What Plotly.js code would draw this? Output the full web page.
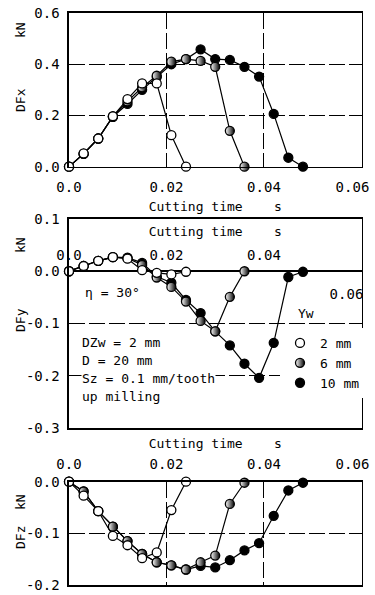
<!DOCTYPE html>
<html>
<head>
<meta charset="utf-8">
<script src="https://cdn.plot.ly/plotly-3.0.1.min.js"></script>
<style>html,body{margin:0;padding:0;background:#fff;}#chart{width:375px;height:595px;}</style>
</head>
<body>
<div id="chart"></div>
<script>
// ---- data ----
const time2  = [0, 0.003, 0.006, 0.009, 0.012, 0.015, 0.018, 0.021, 0.024];
const time6  = [0, 0.003, 0.006, 0.009, 0.012, 0.015, 0.018, 0.021, 0.024, 0.027, 0.030, 0.033, 0.036];
const time10 = [0, 0.003, 0.006, 0.009, 0.012, 0.015, 0.018, 0.021, 0.024, 0.027, 0.030, 0.033, 0.036, 0.039, 0.042, 0.045, 0.048];

const dfx2  = [0, 0.052, 0.11, 0.197, 0.264, 0.325, 0.325, 0.123, 0.0];
const dfx6  = [0, 0.05, 0.11, 0.195, 0.255, 0.31, 0.355, 0.41, 0.42, 0.413, 0.39, 0.14, 0.0];
const dfx10 = [0, 0.05, 0.11, 0.195, 0.245, 0.30, 0.35, 0.40, 0.42, 0.458, 0.42, 0.417, 0.39, 0.352, 0.206, 0.035, 0.0];

const dfy2  = [0, 0.01, 0.02, 0.027, 0.024, 0.002, -0.003, -0.006, -0.001];
const dfy6  = [0, 0.01, 0.02, 0.027, 0.025, 0.012, -0.012, -0.03, -0.058, -0.095, -0.115, -0.049, 0.0];
const dfy10 = [0, 0.01, 0.02, 0.027, 0.026, 0.016, -0.01, -0.022, -0.055, -0.08, -0.115, -0.142, -0.177, -0.204, -0.137, -0.011, -0.001];

const dfz2  = [0, -0.027, -0.057, -0.105, -0.123, -0.148, -0.137, -0.055, 0.0];
const dfz6  = [0, -0.019, -0.057, -0.087, -0.115, -0.14, -0.156, -0.162, -0.17, -0.156, -0.143, -0.043, -0.002];
const dfz10 = [0, -0.019, -0.057, -0.087, -0.115, -0.14, -0.156, -0.162, -0.17, -0.163, -0.166, -0.152, -0.133, -0.119, -0.066, -0.017, -0.002];

const seriesNames = ['2 mm', '6 mm', '10 mm'];
const xGridVals = [0, 0.02, 0.04, 0.06];
const xTickVals = [0, 0.02, 0.04];
const xTickText = ['0.0', '0.02', '0.04'];
const xTickValsEnd = [0.06];
const xTickTextEnd = ['0.06'];
const yTickValsX = [0, 0.2, 0.4, 0.6];
const yTickTextX = ['0.0', '0.2', '0.4', '0.6'];
const yTickValsY = [0.1, 0, -0.1, -0.2, -0.3];
const yTickTextY = ['0.1', '0.0', '-0.1', '-0.2', '-0.3'];
const yTickValsZ = [0, -0.1, -0.2];
const yTickTextZ = ['0.0', '-0.1', '-0.2'];

// ---- styles ----
const FONT = 'DejaVu Sans Mono';
const XR = [0, 0.06001];
const lineStyle = {color: '#000', width: 1.2};
const mk = {
  open:  {symbol: 'circle', size: 9, color: '#fff', line: {color: '#000', width: 1.3}},
  half:  {symbol: 'circle', size: 9, color: '#fff', line: {color: '#000', width: 1.3}, gradient: {type: 'horizontal', color: '#000'}},
  full:  {symbol: 'circle', size: 9, color: '#000', line: {color: '#000', width: 1.3}}
};

function tr(x, y, marker, xa, ya) {
  return {x: x, y: y, mode: 'lines+markers', line: lineStyle, marker: marker,
          xaxis: xa, yaxis: ya, showlegend: false, cliponaxis: false, hoverinfo: 'skip'};
}
function anchorTrace(xa, ya) {
  return {x: [null], y: [null], mode: 'markers', xaxis: xa, yaxis: ya, showlegend: false, hoverinfo: 'skip'};
}

const data = [
  tr(time10, dfx10, mk.full, 'x', 'y'),
  tr(time6,  dfx6,  mk.half, 'x', 'y'),
  tr(time2,  dfx2,  mk.open, 'x', 'y'),
  tr(time10, dfy10, mk.full, 'x3', 'y3'),
  tr(time6,  dfy6,  mk.half, 'x3', 'y3'),
  tr(time2,  dfy2,  mk.open, 'x3', 'y3'),
  tr(time10, dfz10, mk.full, 'x4', 'y4'),
  tr(time6,  dfz6,  mk.half, 'x4', 'y4'),
  tr(time2,  dfz2,  mk.open, 'x4', 'y4'),
  // legend entries
  {x: [null], y: [null], mode: 'markers', marker: mk.open, name: seriesNames[0], xaxis: 'x3', yaxis: 'y3'},
  {x: [null], y: [null], mode: 'markers', marker: mk.half, name: seriesNames[1], xaxis: 'x3', yaxis: 'y3'},
  {x: [null], y: [null], mode: 'markers', marker: mk.full, name: seriesNames[2], xaxis: 'x3', yaxis: 'y3'},
  // anchors for helper axes
  anchorTrace('x2', 'y2'),
  anchorTrace('x5', 'y3'),
  anchorTrace('x6', 'y3'),
  anchorTrace('x7', 'y'),
  anchorTrace('x8', 'y4')
];

const W = 375, H = 595;
const px = v => v / W;
const py = v => 1 - v / H;
const XD = [px(69), px(361.5)];
const DASH = '16px,4px';
const GRID = {showgrid: true, gridcolor: '#000', gridwidth: 1, griddash: DASH};
const BOX = {showline: true, mirror: true, linecolor: '#000', linewidth: 1.6, zeroline: false};
const TICKS = {ticks: 'outside', tickcolor: 'rgba(0,0,0,0)', ticklabeloverflow: 'allow',
               tickfont: {family: FONT, size: 14, color: '#000'}};
const TITLEFONT = {family: FONT, size: 13, color: '#000'};
const ENDAXIS = Object.assign({}, TICKS, {range: XR, tickvals: xTickValsEnd, ticktext: xTickTextEnd,
  ticklabelshift: -9, showgrid: false, showline: false, zeroline: false});

function ylab(text, yPix) {
  return {text: text, x: px(20), y: py(yPix), xref: 'paper', yref: 'paper', xanchor: 'center', yanchor: 'middle',
          textangle: -90, showarrow: false, font: TITLEFONT};
}
function note(text, xPix, yPix) {
  return {text: text, x: px(xPix), y: py(yPix), xref: 'paper', yref: 'paper', xanchor: 'left', yanchor: 'middle',
          showarrow: false, font: TITLEFONT, bgcolor: '#fff', borderpad: 0};
}

const layout = {
  width: W, height: H, autosize: false,
  margin: {l: 0, r: 0, t: 0, b: 0},
  paper_bgcolor: '#fff', plot_bgcolor: '#fff',
  font: {family: FONT, size: 13, color: '#000'},
  // top: DFx
  xaxis: Object.assign({}, BOX, TICKS, {domain: XD, anchor: 'y', range: XR,
    tickvals: xTickVals, ticktext: xTickText, ticklen: 7, showgrid: false,
    title: {text: 'Cutting time\u00a0\u00a0\u00a0\u00a0s', font: TITLEFONT, standoff: 8}}),
  xaxis7: Object.assign({}, ENDAXIS, GRID, {overlaying: 'x', anchor: 'y', side: 'bottom', ticklen: 7,
    tickvals: xGridVals, ticktext: ['', '', '', xTickTextEnd[0]]}),
  yaxis: Object.assign({}, GRID, BOX, TICKS, {domain: [py(166.7), py(13)], anchor: 'x', range: [0, 0.6],
    tickvals: yTickValsX, ticktext: yTickTextX, ticklen: 5}),
  // middle helper grid (below zero line only)
  xaxis2: {domain: XD, anchor: 'y2', range: XR, showgrid: true, gridcolor: '#000', gridwidth: 1,
    griddash: DASH, tickvals: [0.02, 0.04], showticklabels: false, showline: false, zeroline: false, ticks: ''},
  yaxis2: {domain: [py(428), py(271.3)], anchor: 'x2', range: [0, 1], visible: false, showgrid: false, zeroline: false},
  // middle: DFy
  xaxis3: Object.assign({}, BOX, {domain: XD, anchor: 'y3', range: XR, showgrid: false,
    showticklabels: false, ticks: ''}),
  yaxis3: Object.assign({}, GRID, BOX, TICKS, {domain: [py(428), py(219)], anchor: 'x3', range: [-0.3, 0.1],
    tickvals: yTickValsY, ticktext: yTickTextY, ticklen: 5,
    zeroline: true, zerolinecolor: '#000', zerolinewidth: 1.6}),
  xaxis5: Object.assign({}, TICKS, {overlaying: 'x3', anchor: 'free', position: py(271.3), side: 'top',
    range: XR, tickvals: xTickVals, ticktext: xTickText, ticklen: 6,
    showgrid: false, showline: false, zeroline: false,
    title: {text: 'Cutting time\u00a0\u00a0\u00a0\u00a0s', font: TITLEFONT, standoff: 6}}),
  xaxis6: Object.assign({}, ENDAXIS, {overlaying: 'x3', anchor: 'free', position: py(271.3), side: 'bottom',
    ticklen: 10, ticklabelshift: -15}),
  // bottom: DFz
  xaxis4: Object.assign({}, BOX, TICKS, {domain: XD, anchor: 'y4', range: XR, side: 'top',
    tickvals: xTickVals, ticktext: xTickText, ticklen: 6, showgrid: false,
    title: {text: 'Cutting time\u00a0\u00a0\u00a0\u00a0s', font: TITLEFONT, standoff: 4}}),
  xaxis8: Object.assign({}, ENDAXIS, GRID, {overlaying: 'x4', anchor: 'y4', side: 'top', ticklen: 6,
    tickvals: xGridVals, ticktext: ['', '', '', xTickTextEnd[0]]}),
  yaxis4: Object.assign({}, GRID, BOX, TICKS, {domain: [py(585), py(481.7)], anchor: 'x4', range: [-0.2, 0],
    tickvals: yTickValsZ, ticktext: yTickTextZ, ticklen: 5}),
  showlegend: true,
  legend: {x: px(280), y: py(328), xanchor: 'left', yanchor: 'top', bgcolor: '#fff',
    font: {family: FONT, size: 13, color: '#000'}, itemwidth: 30, tracegroupgap: 0},
  annotations: [
    ylab('kN', 30), ylab('DFx', 100),
    ylab('kN', 245), ylab('DFy', 320),
    ylab('kN', 502), ylab('DFz', 538),
    note('η = 30°', 84, 292),
    note('DZw = 2 mm', 81, 342),
    note('D = 20 mm', 81, 360),
    note('Sz = 0.1 mm/tooth', 81, 378),
    note('up milling', 81, 396),
    {text: 'Yw', x: px(316), y: py(313), xref: 'paper', yref: 'paper', showarrow: false, font: TITLEFONT}
  ]
};

Plotly.newPlot('chart', data, layout, {displayModeBar: false, staticPlot: true});
</script>
</body>
</html>
